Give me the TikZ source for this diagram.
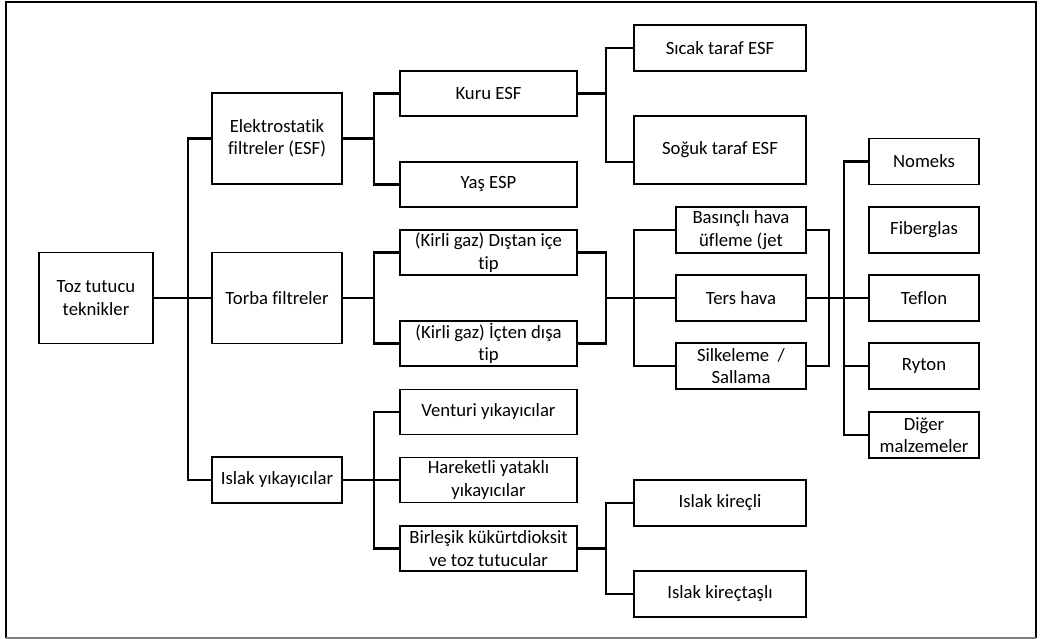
\documentclass[tikz,border=0pt]{standalone}
\usepackage{fontspec}
\setmainfont{Carlito}[Ligatures=NoCommon]
\usepackage{tikz}
\usepackage{xcolor}

\begin{document}
\begin{tikzpicture}[x=1pt, y=-1pt,
		box/.style={draw, line width=1.9pt, align=center, inner sep=0pt, font=\fontsize{18.7}{22.5}\selectfont},
		link/.style={line width=2.2pt, line join=miter},
		frame/.style={line width=1.5pt}]
					\useasboundingbox (0,0) rectangle (1041,639);
					\draw[frame] (6,638) |- (1036,2) -- (1036,638);
					\draw[frame, gray] (6,638) -- (1036,638);
					
					\node[box, minimum width=114, minimum height=91] (root) at (96,298) {Toz tutucu\\teknikler};
					
					\node[box, minimum width=130, minimum height=91] (esf) at (277,138.5) {Elektrostatik\\filtreler (ESF)};
					\node[box, minimum width=130, minimum height=91] (torba) at (277,298) {Torba filtreler};
					\node[box, minimum width=130, minimum height=46] (islak) at (277,480) {Islak yıkayıcılar};
					
					\foreach \y/\name/\txt in {
						93.5/kuru/Kuru ESF,
						184.5/yas/Yaş ESP,
						252.5/distan/(Kirli gaz) Dıştan içe\\tip,
						343.5/icten/(Kirli gaz) İçten dışa\\tip,
						412/venturi/Venturi yıkayıcılar,
						480/hareketli/Hareketli yataklı\\yıkayıcılar,
						548.5/birlesik/Birleşik kükürtdioksit\\ve toz tutucular
					}
					{
						\node[box, minimum width=177, minimum height=45] (\name) at (488.5,\y) {\txt};
					}
					
					\node[box, minimum width=172, minimum height=46] (sicak) at (720,48) {Sıcak taraf ESF};
					\node[box, minimum width=172, minimum height=68] (soguk) at (720,150) {Soğuk taraf ESF};
					\node[box, minimum width=172, minimum height=46] (kirecli) at (720,503) {Islak kireçli};
					\node[box, minimum width=172, minimum height=46] (kirectasli) at (720,594) {Islak kireçtaşlı};
					
					\node[box, minimum width=130, minimum height=46] (basincli) at (741,230) {Basınçlı hava\\üfleme (jet};
					\node[box, minimum width=130, minimum height=46] (ters) at (741,298) {Ters hava};
					\node[box, minimum width=130, minimum height=46] (silkeleme) at (741,366) {Silkeleme~~/\\Sallama};
					
					\foreach \y/\name/\txt in {
						161.5/nomeks/Nomeks,
						230/fiber/Fiberglas,
						298/teflon/Teflon,
						366/ryton/Ryton,
						435/diger/Diğer\\malzemeler
					}
					{
						\node[box, minimum width=110, minimum height=46] (\name) at (924,\y) {\txt};
					}
					
					\coordinate (j1) at (188,298);
					\coordinate (j2) at (374,138.5);
					\coordinate (j3) at (374,298);
					\coordinate (j4) at (374,480);
					\coordinate (j5) at (606,93.5);
					\coordinate (j6) at (606,298);
					\coordinate (j7) at (634,298);
					\coordinate (j8) at (829,298);
					\coordinate (j9) at (844,298);
					\coordinate (j10) at (606,548.5);
					
					\draw[link] (root.east) -- (torba.west);
					\draw[link] (esf.west) -| (j1) |- (islak.west);
					
					\draw[link] (esf.east) -- (j2);
					\draw[link] (kuru.west) -| (j2) |- (yas.west);
					\draw[link] (torba.east) -- (j3);
					\draw[link] (distan.west) -| (j3) |- (icten.west);
					\draw[link] (islak.east) -- (hareketli.west);
					\draw[link] (venturi.west) -| (j4) |- (birlesik.west);
					
					\draw[link] (kuru.east) -- (j5);
					\draw[link] (sicak.west) -| (j5) |- ([yshift=-12pt]soguk.west);
					\draw[link] (birlesik.east) -- (j10);
					\draw[link] (kirecli.west) -| (j10) |- (kirectasli.west);
					
					\draw[link] (distan.east) -| (j6) |- (icten.east);
					\draw[link] (j6) -- (j7);
					\draw[link] (basincli.west) -| (j7) |- (silkeleme.west);
					\draw[link] (j7) -- (ters.west);
					\draw[link] (basincli.east) -| (j8) |- (silkeleme.east);
					\draw[link] (ters.east) -- (teflon.west);
					\draw[link] (nomeks.west) -| (j9) |- (diger.west);
					\draw[link] (j9) |- (ryton.west);
				\end{tikzpicture}
\end{document}
